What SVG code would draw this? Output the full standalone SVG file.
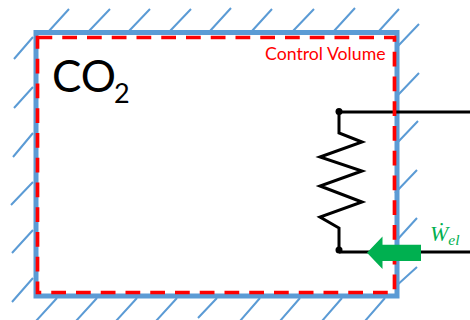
<svg xmlns="http://www.w3.org/2000/svg" width="470" height="320" viewBox="0 0 470 320">
<style>
.hatch{stroke:#5B9BD5;stroke-width:2;fill:none}
.wire{stroke:#000;stroke-width:3;fill:none}
.label{font-family:"Lato","Noto Sans",sans-serif}
</style>
<rect width="470" height="320" fill="#fff"/>
<g id="hatching" class="hatch">
<path d="M49 31L69 9M89 31L110 9M129 31L150 9M170 31L191 9M210 31L231 8M252 31L272 9M293 31L314 9M334 31L355 8M379 31L399 9"/>
<path d="M33 37L14 59M33 87L14 108M33 133L13 157M33 182L11 205M33 230L12 253M33 278L12 302"/>
<path d="M57 298L36 321M97 298L76 321M137 298L116 321M177 298L156 321M217 298L198 318M260 298L240 321M300 298L280 321M342 298L322 321M385 298L365 321"/>
<path d="M398 46L419 24M398 95L419 73M398 142L418 121M395 193L417 170M397 240L417 218M395 287L417 267"/>
</g>
<rect id="wall" x="36" y="32.5" width="361" height="263.5" fill="none" stroke="#5B9BD5" stroke-width="5"/>
<g id="circuit" class="wire">
<path d="M339 112H470"/>
<path d="M339 112V133L362 142L320 157L362 171L320 186L362 202L320 217L339 228V250"/>
<path d="M339 252H470"/>
<circle cx="339" cy="111.5" r="3.5" fill="#000" stroke="none"/>
<circle cx="339" cy="250" r="3.5" fill="#000" stroke="none"/>
</g>
<rect id="control-volume" x="37.5" y="37.5" width="357" height="255" fill="none" stroke="#FF0000" stroke-width="3.7" stroke-dasharray="14.75 10"/>
<polygon id="work-arrow" points="367,252.8 382.5,236.5 382.5,244.7 421,244.7 421,261 382.5,261 382.5,269" fill="#00B050"/>
<g id="labels">
<text class="label" x="52" y="92" font-size="44" fill="#000">CO<tspan font-size="27" dy="11" dx="-2">2</tspan></text>
<text class="label" x="265" y="60" font-size="17.7" fill="#FF0000">Control Volume</text>
<text x="430" y="241" font-family="'Liberation Serif',serif" font-style="italic" font-size="22" fill="#00B050">Ẇ<tspan font-size="15.5" dy="4">el</tspan></text>
</g>
</svg>
